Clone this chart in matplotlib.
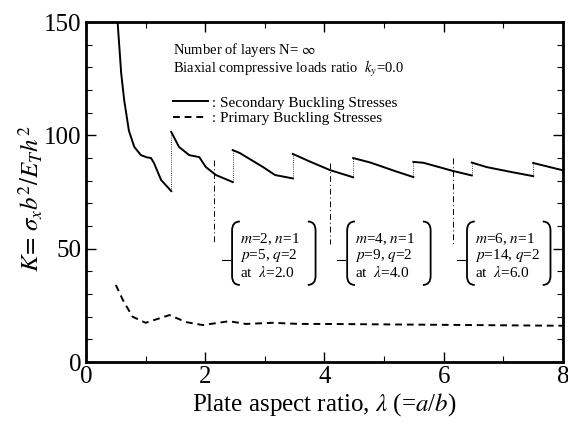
import matplotlib
matplotlib.use("Agg")
import matplotlib.pyplot as plt
from matplotlib.path import Path
from matplotlib.patches import PathPatch
from matplotlib.ticker import MultipleLocator

plt.rcParams['font.family'] = ['Liberation Serif', 'DejaVu Serif']
plt.rcParams['mathtext.fontset'] = 'stix'

# secondary buckling stresses, one list per "tooth"
sec_lam = [
    [0.50, 0.53, 0.59, 0.64, 0.72, 0.81, 0.92, 1.02, 1.09, 1.14, 1.26, 1.43],
    [1.43, 1.56, 1.73, 1.90, 2.01, 2.18, 2.46],
    [2.46, 2.58, 2.97, 3.17, 3.47],
    [3.47, 3.75, 4.09, 4.48],
    [4.48, 4.77, 5.21, 5.49],
    [5.49, 5.66, 6.14, 6.47],
    [6.47, 6.72, 7.10, 7.50],
    [7.50, 7.98, 8.00],
]
sec_K = [
    [158, 150, 127.5, 115.6, 102, 94.9, 91.3, 90.3, 90, 87.8, 80.3, 75.4],
    [101.5, 94.9, 91.3, 90.4, 86, 82.5, 79.4],
    [93.5, 92.2, 86, 82.5, 81],
    [91.8, 88.5, 84.7, 81.5],
    [90, 88, 84, 81.6],
    [88.3, 87.9, 84.4, 82.3],
    [88, 86, 84, 82],
    [87.8, 84.7, 84.6],
]

# primary buckling stresses
pri_lam = [0.5, 0.62, 0.78, 1.0, 1.2, 1.4, 1.68, 1.96, 2.4, 2.68, 3.13, 3.58, 4.0, 5.0, 6.0, 7.0, 8.0]
pri_K = [34, 27.3, 20, 17.3, 19, 20.7, 17.6, 16.3, 18, 16.8, 17.3, 16.8, 16.8, 16.6, 16.4, 16.2, 16.0]

# mode annotations
ann_lam = [2.15, 4.10, 6.15]
ann_top = [89, 88, 90]
ann_box = [2.45, 4.38, 6.39]
ann_lines = [
    [r"$m$=2, $n$=1", r"$p$=5, $q$=2", r"at  $\lambda$=2.0"],
    [r"$m$=4, $n$=1", r"$p$=9, $q$=2", r"at  $\lambda$=4.0"],
    [r"$m$=6, $n$=1", r"$p$=14, $q$=2", r"at  $\lambda$=6.0"],
]

fig = plt.figure(figsize=(5.68, 4.32), dpi=100)
ax = fig.add_axes([0.1514, 0.162, 0.8398, 0.787])

for i in range(len(sec_lam)):
    ax.plot(sec_lam[i], sec_K[i], color='black', lw=1.4,
            label=' : Secondary Buckling Stresses' if i == 0 else None)
    if i > 0:
        ax.plot([sec_lam[i][0], sec_lam[i][0]], [sec_K[i - 1][-1], sec_K[i][0]],
                color='black', lw=0.6, ls=':')

ax.plot(pri_lam, pri_K, color='black', lw=1.4, ls=(0, (3.5, 2.5)),
        label=' : Primary Buckling Stresses')

# bracket annotations
w, d = 0.13, 4.0
top, bot = 62, 34
for lam0, ktop, bx, lines in zip(ann_lam, ann_top, ann_box, ann_lines):
    ax.plot([lam0, lam0], [ktop, 52], color='black', lw=0.7, ls=(0, (6, 3, 1, 3)))
    ax.plot([bx - 0.17, bx - 0.03], [45, 45], color='black', lw=0.8)
    bw = 1.40
    for side in (0, 1):
        if side == 0:
            xs, xe = bx + w, bx
        else:
            xs, xe = bx + bw - w, bx + bw
        verts = [(xs, top), (xe, top), (xe, top - d), (xe, bot + d), (xe, bot), (xs, bot)]
        codes = [Path.MOVETO, Path.CURVE3, Path.CURVE3, Path.LINETO, Path.CURVE3, Path.CURVE3]
        ax.add_patch(PathPatch(Path(verts, codes), fill=False, lw=1.3, color='black'))
    for j, t in enumerate(lines):
        ax.text(bx + 0.13, 54 - 7.2 * j, t, fontsize=11, va='center', ha='left')

ax.text(1.46, 137.5, r"Number of layers N= $\infty$", fontsize=10.5, va='center')
ax.text(1.46, 129.3, r"Biaxial compressive loads ratio  $k_y$=0.0", fontsize=10.5, va='center')
ax.legend(loc='upper left', bbox_to_anchor=(0.17, 0.80), frameon=False, fontsize=11,
          handlelength=2.3, handletextpad=0.0, labelspacing=0.12, borderaxespad=0)

ax.set_xlim(0, 8)
ax.set_ylim(0, 150)
ax.xaxis.set_major_locator(MultipleLocator(2))
ax.xaxis.set_minor_locator(MultipleLocator(1))
ax.yaxis.set_major_locator(MultipleLocator(50))
ax.yaxis.set_minor_locator(MultipleLocator(10))
ax.tick_params(which='both', direction='in', top=True, right=True, labelsize=18)
ax.tick_params(which='major', length=7, width=1.0, pad=3)
ax.tick_params(which='minor', length=4, width=0.8)
for s in ax.spines.values():
    s.set_linewidth(2.0)

ax.set_xlabel(r"Plate aspect ratio, $\lambda$ (=$a$/$b$)", fontsize=18, labelpad=2)
ax.set_ylabel(r"$K\!=\,\sigma_x b^2/E_T h^2$", fontsize=18)
ax.yaxis.set_label_coords(-0.085, 0.48)

fig.savefig('out.png', dpi=100)
